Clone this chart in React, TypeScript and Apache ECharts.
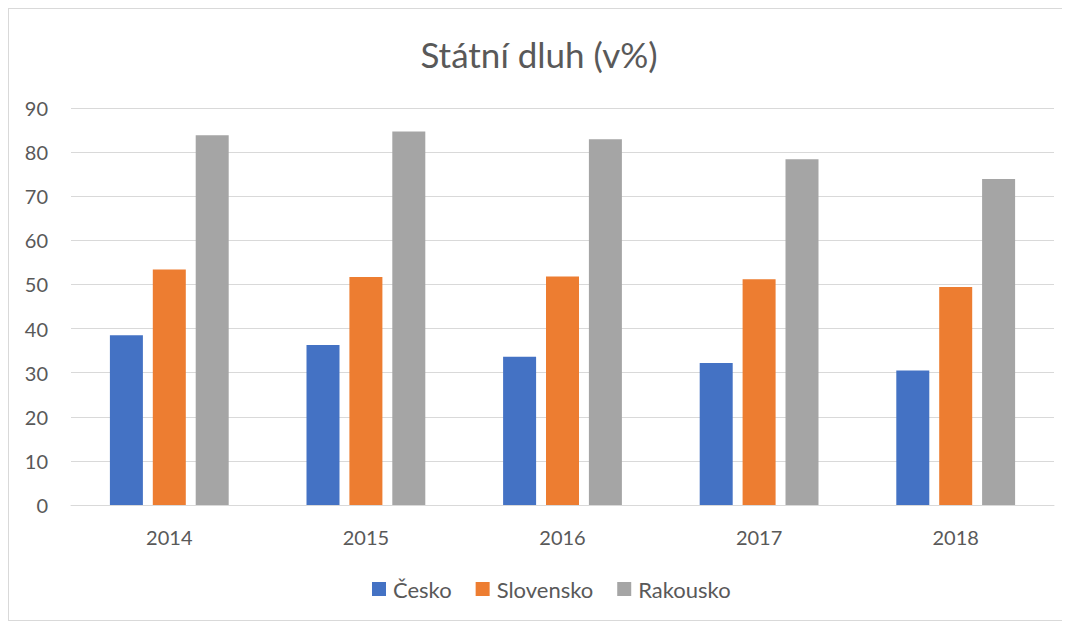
import React, { useEffect, useRef } from "react";
import * as echarts from "echarts";

const categories = ["2014", "2015", "2016", "2017", "2018"];
const cesko = [38.5, 36.3, 33.6, 32.2, 30.5];
const slovensko = [53.4, 51.7, 51.8, 51.2, 49.4];
const rakousko = [83.8, 84.7, 82.9, 78.4, 73.9];
const seriesNames = ["Česko", "Slovensko", "Rakousko"];
const titleText = "Státní dluh (v%)";

export default function App() {
  const ref = useRef<HTMLDivElement>(null);
  useEffect(() => {
    if (!ref.current) return;
    const chart = echarts.init(ref.current, null, { renderer: "svg" });
    const font = "Lato, 'Open Sans', sans-serif";
    const mk = (name: string, data: number[], color: string) => ({
      name,
      type: "bar",
      data,
      barWidth: 33,
      barGap: "30%",
      itemStyle: { color },
    });
    chart.setOption({
      animation: false,
      textStyle: { fontFamily: font },
      title: {
        text: titleText,
        left: "center",
        top: 22,
        textStyle: { fontSize: 35, fontWeight: "normal", color: "#595959", fontFamily: font },
      },
      grid: { left: 62, right: 15, top: 99, bottom: 115 },
      legend: {
        bottom: 15,
        left: 358,
        itemWidth: 14,
        itemHeight: 14,
        itemGap: 24,
        icon: "rect",
        textStyle: { fontSize: 22, color: "#595959", fontFamily: font, padding: [0, 0, 0, 2] },
        data: seriesNames,
      },
      xAxis: {
        type: "category",
        data: categories,
        axisLine: { lineStyle: { color: "#d9d9d9", width: 1 } },
        axisTick: { show: false },
        axisLabel: { fontSize: 20, color: "#595959", margin: 22, fontFamily: font },
      },
      yAxis: {
        type: "value",
        min: 0,
        max: 90,
        interval: 10,
        axisLine: { show: false },
        axisTick: { show: false },
        splitLine: { lineStyle: { color: "#d9d9d9", width: 1 } },
        axisLabel: { fontSize: 20, color: "#595959", margin: 23, fontFamily: font },
      },
      series: [
        mk(seriesNames[0], cesko, "#4472c4"),
        mk(seriesNames[1], slovensko, "#ed7d31"),
        mk(seriesNames[2], rakousko, "#a5a5a5"),
      ],
    });
    return () => chart.dispose();
  }, []);
  return (
    <div
      ref={ref}
      style={{ width: 1060, height: 611, border: "1px solid #d9d9d9", background: "#fff" }}
    />
  );
}
